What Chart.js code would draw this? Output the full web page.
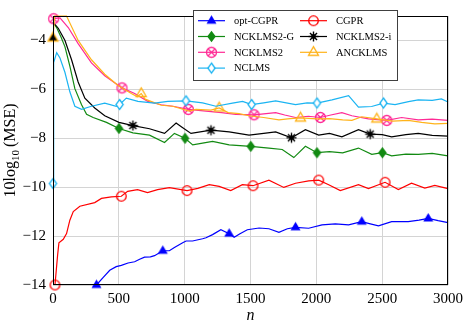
<!DOCTYPE html>
<html><head><meta charset="utf-8">
<script src="https://cdn.jsdelivr.net/npm/chart.js@4"></script>
<style>html,body{margin:0;padding:0;background:#fff}</style>
</head><body>
<canvas id="c" width="468" height="324"></canvas>
<script>
// ---- axes ----
const xTicks = [0, 500, 1000, 1500, 2000, 2500, 3000];
const yTicks = [-14, -12, -10, -8, -6, -4];

// ---- series (n, value in dB) ----
const optN = [330,380,431,480,519,570,620,658,695,740,771,834,884,922,985,1011,1060,1136,1162,1212,1275,1338,1376,1420,1476,1565,1640,1716,1780,1842,1942,2043,2144,2245,2345,2410,2472,2572,2698,2780,2850,2925,3000];
const optV = [-14,-13.7,-13.4,-13.25,-13.2,-13.1,-13.05,-12.95,-12.86,-12.85,-12.8,-12.6,-12.6,-12.47,-12.27,-12.2,-12.2,-12.11,-12.07,-11.94,-11.74,-11.9,-12.05,-11.9,-11.74,-11.67,-11.7,-11.85,-11.7,-11.64,-11.68,-11.54,-11.5,-11.54,-11.41,-11.5,-11.58,-11.41,-11.41,-11.35,-11.28,-11.37,-11.45];
const optMarks = [330,834,1338,1842,2345,2850];

const cgprN = [15,35,45,78,103,128,154,204,317,368,443,519,567,642,718,794,884,1018,1100,1187,1262,1350,1438,1519,1640,1753,1842,1942,2018,2094,2182,2320,2396,2522,2623,2723,2824,2900,3000];
const cgprV = [-14,-12.78,-12.27,-12.13,-11.9,-11.35,-11.0,-10.78,-10.63,-10.46,-10.4,-10.37,-10.17,-10.1,-10.22,-10.1,-10.02,-10.14,-10.05,-9.9,-9.97,-10.14,-9.9,-9.94,-9.71,-10.01,-9.84,-9.74,-9.71,-9.9,-10.14,-9.9,-10.06,-9.8,-10.1,-9.84,-10.04,-9.93,-10.06];
const cgprMarks = [15,519,1018,1519,2018,2522];

const gN = [0,30,60,91,128,166,217,255,305,406,501,607,733,847,922,1003,1061,1136,1212,1338,1420,1502,1640,1741,1829,1917,2005,2100,2200,2320,2421,2502,2572,2680,2774,2880,3000];
const gV = [-3.25,-3.5,-3.85,-4.26,-5.05,-5.97,-6.63,-7.02,-7.15,-7.35,-7.6,-7.78,-7.87,-8.17,-7.8,-8.0,-8.27,-8.2,-8.13,-8.27,-8.3,-8.33,-8.4,-8.46,-8.79,-8.33,-8.59,-8.55,-8.6,-8.4,-8.66,-8.59,-8.72,-8.65,-8.66,-8.62,-8.72];
const gMarks = [501,1003,1502,2005,2502];

const iN = [0,40,91,141,191,242,317,393,501,607,733,847,935,980,1048,1200,1338,1489,1600,1691,1811,1917,2018,2100,2194,2320,2409,2500,2572,2680,2774,2880,3000];
const iV = [-3.25,-3.5,-4.0,-4.79,-5.7,-6.36,-6.76,-7.08,-7.35,-7.48,-7.61,-7.8,-7.38,-7.55,-7.8,-7.67,-7.74,-7.87,-7.8,-7.74,-7.98,-7.65,-7.87,-7.8,-7.94,-7.65,-7.83,-7.85,-7.94,-7.85,-7.8,-7.88,-7.91];
const iMarks = [607,1200,1811,2409];

const mN = [5,53,116,191,292,393,524,620,720,822,910,1028,1162,1280,1388,1527,1600,1691,1760,1842,1940,2031,2110,2194,2270,2396,2535,2648,2774,2880,3000];
const mV = [-3.11,-3.08,-3.47,-4.13,-4.92,-5.44,-5.94,-6.17,-6.49,-6.63,-6.69,-6.82,-6.89,-6.95,-7.02,-7.04,-7.0,-6.95,-7.05,-7.15,-7.1,-7.15,-7.05,-6.95,-7.08,-7.21,-7.27,-7.15,-7.25,-7.22,-7.27];
const mMarks = [5,524,1028,1527,2031,2535];

const aN = [0,12,103,191,292,393,494,595,640,670,700,822,910,1035,1086,1200,1262,1330,1413,1489,1600,1716,1800,1880,2005,2100,2200,2270,2345,2459,2580,2698,2800,2900,3000];
const aV = [-3.9,-3.0,-3.0,-4.0,-4.79,-5.38,-5.84,-6.17,-6.3,-6.17,-6.4,-6.65,-6.69,-6.89,-6.82,-6.85,-6.76,-6.95,-6.99,-7.08,-7.15,-7.25,-7.2,-7.17,-7.21,-7.2,-7.25,-7.27,-7.12,-7.21,-7.3,-7.27,-7.35,-7.41,-7.39];
const aMarks = [0,670,1262,1880,2459];

const cN = [0,5,28,53,91,128,166,217,292,393,481,506,557,645,771,872,1010,1136,1237,1363,1440,1509,1600,1691,1842,1930,2005,2119,2245,2320,2420,2510,2598,2700,2774,2880,2950,3000];
const cV = [-9.85,-4.9,-4.5,-4.72,-5.31,-6.1,-6.69,-6.82,-6.69,-6.56,-6.69,-6.62,-6.36,-6.49,-6.56,-6.49,-6.47,-6.55,-6.69,-6.56,-6.49,-6.62,-6.55,-6.47,-6.62,-6.55,-6.56,-6.43,-6.26,-6.73,-6.7,-6.56,-6.62,-6.5,-6.43,-6.45,-6.39,-6.52];
const cMarks = [0,506,1010,1509,2005,2510];

// ---- markers ----
function mk(draw){const c=document.createElement('canvas');c.width=15;c.height=15;const g=c.getContext('2d');g.translate(7.5,7.5);g.lineWidth=1.3;draw(g);return c;}
function tri(g){g.beginPath();g.moveTo(0,-5.6);g.lineTo(5,3);g.lineTo(-5,3);g.closePath();}
function dia(g,w,h){g.beginPath();g.moveTo(0,-h);g.lineTo(w,0);g.lineTo(0,h);g.lineTo(-w,0);g.closePath();}
const C = {blue:'#0000ff', red:'#ff0000', green:'#128a12', black:'#000000', mag:'#ff2a95', org:'#ffb31a', cyan:'#1ab4f2'};
const mkBlue = mk(g=>{tri(g);g.fillStyle=C.blue;g.fill();});
const mkRed = mk(g=>{g.beginPath();g.arc(0,0,4.8,0,Math.PI*2);g.strokeStyle=C.red;g.stroke();});
const mkGreen = mk(g=>{dia(g,4.3,5.8);g.fillStyle=C.green;g.fill();});
const mkBlack = mk(g=>{g.strokeStyle=C.black;g.lineWidth=1.4;for(let k=0;k<8;k++){const a=k*Math.PI/4;g.beginPath();g.moveTo(0,0);g.lineTo(5*Math.cos(a),5*Math.sin(a));g.stroke();}g.beginPath();g.arc(0,0,2.4,0,Math.PI*2);g.fillStyle=C.black;g.fill();});
const mkMag = mk(g=>{g.strokeStyle=C.mag;g.beginPath();g.arc(0,0,5,0,Math.PI*2);g.stroke();const r=3.5;g.beginPath();g.moveTo(-r,-r);g.lineTo(r,r);g.moveTo(r,-r);g.lineTo(-r,r);g.stroke();});
const mkOrg = mk(g=>{tri(g);g.strokeStyle=C.org;g.stroke();});
const mkOrgB = mk(g=>{tri(g);g.fillStyle='#000';g.fill();g.strokeStyle=C.org;g.stroke();});
const mkCyan = mk(g=>{dia(g,3.6,5);g.fillStyle='#fff';g.fill();g.strokeStyle=C.cyan;g.stroke();});

function ds(label, ns, vs, marks, color, img, idx, firstImg){
  return {
    label, data: ns.map((n,k)=>({x:n,y:vs[k]})),
    borderColor: color, backgroundColor: color, borderWidth: 1.2,
    tension: 0, clip: 10, order: 10-idx,
    pointRadius: c => marks.includes(c.raw.x) ? 5 : 0,
    pointStyle: c => (firstImg && c.dataIndex===0) ? firstImg : img,
    legendImg: img
  };
}
const datasets = [
  ds('opt-CGPR', optN, optV, optMarks, C.blue, mkBlue, 0),
  ds('CGPR', cgprN, cgprV, cgprMarks, C.red, mkRed, 1),
  ds('NCKLMS2-G', gN, gV, gMarks, C.green, mkGreen, 2),
  ds('NCKLMS2-i', iN, iV, iMarks, C.black, mkBlack, 3),
  ds('NCKLMS2', mN, mV, mMarks, C.mag, mkMag, 4),
  ds('ANCKLMS', aN, aV, aMarks, C.org, mkOrg, 5, mkOrgB),
  ds('NCLMS', cN, cV, cMarks, C.cyan, mkCyan, 6)
];

const SERIF = '"Liberation Serif","Times New Roman",serif';
const deco = {
  id:'deco',
  afterDraw(chart){
    const {ctx, chartArea:a} = chart;
    ctx.save();
    ctx.strokeStyle='#000'; ctx.lineWidth=1;
    ctx.strokeRect(Math.round(a.left)+0.5, Math.round(a.top)+0.5, Math.round(a.right-a.left)-1, Math.round(a.bottom-a.top)-1);
    // legend
    const L={x:193,y:10,w:204,h:70};
    ctx.fillStyle='#fff'; ctx.fillRect(L.x,L.y,L.w,L.h);
    ctx.strokeStyle='#404040'; ctx.strokeRect(L.x+0.5,L.y+0.5,L.w,L.h);
    ctx.font='10.5px '+SERIF; ctx.textBaseline='middle'; ctx.textAlign='left';
    chart.data.datasets.forEach((d,i)=>{
      const col=i%2, row=Math.floor(i/2);
      const lx = col ? 300 : 198, ly = 20.7 + row*15.8;
      ctx.strokeStyle=d.borderColor; ctx.lineWidth=1.2;
      ctx.beginPath(); ctx.moveTo(lx,ly); ctx.lineTo(lx+27,ly); ctx.stroke();
      const im=d.legendImg; ctx.drawImage(im, lx+13.5-im.width/2, ly-im.height/2);
      ctx.fillStyle='#000'; ctx.fillText(d.label, lx+36, ly+0.5);
    });
    // y title
    ctx.save();
    ctx.translate(0,(a.top+a.bottom)/2); ctx.rotate(-Math.PI/2);
    const big='16px '+SERIF, small='11px '+SERIF;
    ctx.font=big; const w1=ctx.measureText('10log').width, w3=ctx.measureText('(MSE)').width;
    ctx.font=small; const w2=ctx.measureText('10').width;
    const tot=w1+w2+3+w3; let x=-tot/2;
    ctx.fillStyle='#000'; ctx.textBaseline='alphabetic'; ctx.textAlign='left';
    ctx.font=big; ctx.fillText('10log',x,15); x+=w1;
    ctx.font=small; ctx.fillText('10',x,19); x+=w2+3;
    ctx.font=big; ctx.fillText('(MSE)',x,15);
    ctx.restore();
    // x title
    ctx.font='italic 16px '+SERIF; ctx.textAlign='center'; ctx.textBaseline='alphabetic'; ctx.fillStyle='#000';
    ctx.fillText('n',(a.left+a.right)/2,320);
    ctx.restore();
  }
};

new Chart(document.getElementById('c'), {
  type:'line',
  data:{datasets},
  plugins:[deco],
  options:{
    responsive:false, animation:false, events:[],
    layout:{padding:{top:4,right:18,left:0,bottom:0}},
    plugins:{legend:{display:false}, tooltip:{enabled:false}},
    scales:{
      x:{type:'linear', min:0, max:3000,
        afterBuildTicks:s=>{s.ticks=xTicks.map(v=>({value:v}));},
        afterFit:s=>{s.height=39;},
        grid:{color:'#d4d4d4', lineWidth:1, drawTicks:false},
        border:{display:false},
        ticks:{padding:5, color:'#000', font:{family:SERIF,size:15}, maxRotation:0, autoSkip:false, callback:v=>String(v)}
      },
      y:{type:'linear', min:-14, max:-3,
        afterBuildTicks:s=>{s.ticks=yTicks.map(v=>({value:v}));},
        afterFit:s=>{s.width=53;},
        grid:{color:'#d4d4d4', lineWidth:1, drawTicks:false},
        border:{display:false},
        ticks:{padding:7, color:'#000', font:{family:SERIF,size:15}, autoSkip:false, callback:v=>(v<0?'\u2212'+Math.abs(v):String(v))}
      }
    }
  }
});
</script>
</body></html>
